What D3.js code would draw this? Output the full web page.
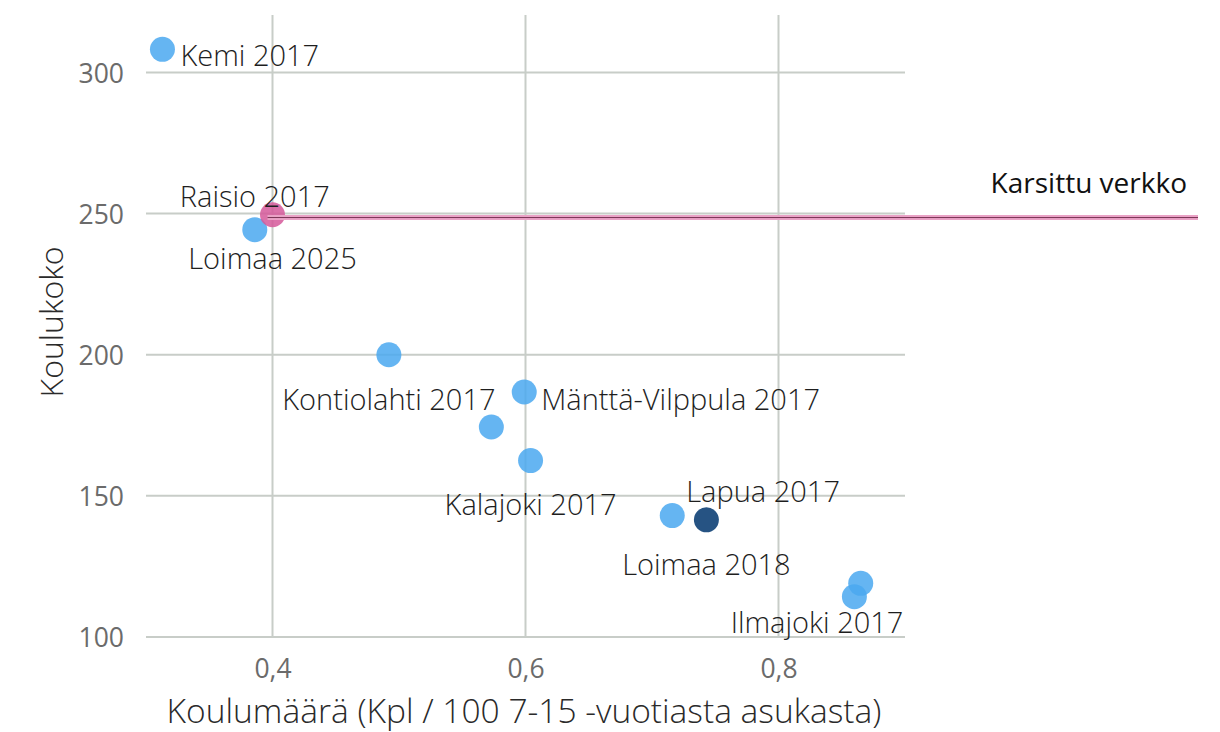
<!DOCTYPE html>
<html>
<head>
<meta charset="utf-8">
<script src="https://cdn.jsdelivr.net/npm/d3@7"></script>
<style>
  html, body { margin: 0; padding: 0; background: #fff; }
  svg { display: block; font-family: "Open Sans", "Noto Sans", sans-serif; }
</style>
</head>
<body>
<svg id="chart" width="1220" height="732"></svg>
<script>
// School network comparison: number of schools per 100 pupils-age residents vs. average school size
const names = [
  "Kemi 2017", "Raisio 2017", "Loimaa 2025", "Kontiolahti 2017", "Mänttä-Vilppula 2017",
  null, "Kalajoki 2017", "Lapua 2017", "Loimaa 2018", "Ilmajoki 2017", null
];
const schoolDensity = [0.313, 0.386, 0.400, 0.492, 0.599, 0.573, 0.604, 0.716, 0.743, 0.860, 0.865];
const schoolSize    = [308.2, 244.3, 249.6, 200.0, 186.8, 174.4, 162.5, 143.0, 141.5, 114.3, 119.0];
const groups        = ["other", "other", "pruned", "other", "other", "other", "other", "other", "current", "other", "other"];

const referenceLabel = "Karsittu verkko";
const referenceValue = 248.6;

const xTicks = [0.4, 0.6, 0.8];
const yTicks = [100, 150, 200, 250, 300];
const xTitle = "Koulumäärä (Kpl / 100 7-15 -vuotiasta asukasta)";
const yTitle = "Koulukoko";

// label placement relative to each point: [dx, dy, anchor]
const labelPlacement = {
  "Kemi 2017": [18, 17, "start"],
  "Raisio 2017": [0, -23, "middle"],
  "Loimaa 2025": [0, 54, "middle"],
  "Kontiolahti 2017": [0, 55, "middle"],
  "Mänttä-Vilppula 2017": [17, 18, "start"],
  "Kalajoki 2017": [0, 54, "middle"],
  "Lapua 2017": [14, -14, "start"],
  "Loimaa 2018": [0, 55, "middle"],
  "Ilmajoki 2017": [49, 36, "end"]
};

const colors = { other: "#4aa8f0", current: "#1a4a7c", pruned: "#d5589a" };

const svg = d3.select("#chart");
const plot = { left: 146, right: 905, top: 16, bottom: 637 };

const x = d3.scaleLinear().domain([0.3, 0.9]).range([plot.left, plot.right]);
const y = d3.scaleLinear().domain([100, 320]).range([plot.bottom, plot.top]);
const fmt = v => d3.format(".1f")(v).replace(".", ",");

// gridlines
const grid = svg.append("g");
grid.selectAll("line.h").data(yTicks).join("line")
  .attr("x1", plot.left).attr("x2", plot.right)
  .attr("y1", d => y(d)).attr("y2", d => y(d))
  .attr("stroke", "#c8cdc8").attr("stroke-width", 2);
grid.selectAll("line.v").data(xTicks).join("line")
  .attr("x1", d => x(d)).attr("x2", d => x(d))
  .attr("y1", plot.top - 1).attr("y2", plot.bottom + 1)
  .attr("stroke", "#c8cdc8").attr("stroke-width", 2);

// axes (labels only)
const yAxis = svg.append("g").attr("transform", `translate(${plot.left - 22},0)`)
  .call(d3.axisLeft(y).tickValues(yTicks).tickSize(0).tickPadding(0));
yAxis.select(".domain").remove();
yAxis.selectAll("text").attr("font-size", 26.5).attr("fill", "#6b6b6b")
  .attr("font-family", "Open Sans").attr("dy", "0.36em");

const xAxis = svg.append("g").attr("transform", `translate(0,${plot.bottom + 16})`)
  .call(d3.axisBottom(x).tickValues(xTicks).tickFormat(fmt).tickSize(0).tickPadding(0));
xAxis.select(".domain").remove();
xAxis.selectAll("text").attr("font-size", 26.5).attr("fill", "#6b6b6b")
  .attr("font-family", "Open Sans").attr("dy", "0.95em");

// axis titles
svg.append("text").attr("x", 524).attr("y", 723)
  .attr("text-anchor", "middle").attr("font-size", 33.5).attr("fill", "#2a2a2a")
  .attr("font-weight", 300).text(xTitle);
svg.append("text").attr("transform", `translate(63,${322}) rotate(-90)`)
  .attr("text-anchor", "middle").attr("font-size", 32).attr("fill", "#2a2a2a")
  .attr("font-weight", 300).text(yTitle);

const points = names.map((n, i) => ({ name: n, vx: schoolDensity[i], vy: schoolSize[i], group: groups[i] }));
const pruned = points.find(p => p.group === "pruned");

// points
svg.append("g").selectAll("circle").data(points).join("circle")
  .attr("cx", d => x(d.vx)).attr("cy", d => y(d.vy)).attr("r", 12.5)
  .attr("fill", d => colors[d.group]).attr("fill-opacity", d => d.group === "current" ? 0.95 : 0.85);

// reference line from the pruned network point
const ref = svg.append("g");
ref.append("line").attr("x1", x(pruned.vx) - 5).attr("x2", 1198)
  .attr("y1", y(referenceValue)).attr("y2", y(referenceValue))
  .attr("stroke", "#eaa2c6").attr("stroke-width", 5);
ref.append("line").attr("x1", x(pruned.vx) - 5).attr("x2", 1198)
  .attr("y1", y(referenceValue)).attr("y2", y(referenceValue))
  .attr("stroke", "#7a3556").attr("stroke-width", 1);
ref.append("text").attr("x", 1187).attr("y", y(referenceValue) - 25)
  .attr("text-anchor", "end").attr("font-size", 28).attr("fill", "#111")
  .text(referenceLabel);

// point labels
svg.append("g").selectAll("text").data(points.filter(p => p.name)).join("text")
  .attr("x", d => x(d.vx) + labelPlacement[d.name][0])
  .attr("y", d => y(d.vy) + labelPlacement[d.name][1])
  .attr("text-anchor", d => labelPlacement[d.name][2])
  .attr("font-size", 29).attr("fill", "#1e1e1e").attr("font-weight", 300)
  .text(d => d.name);
</script>
</body>
</html>
